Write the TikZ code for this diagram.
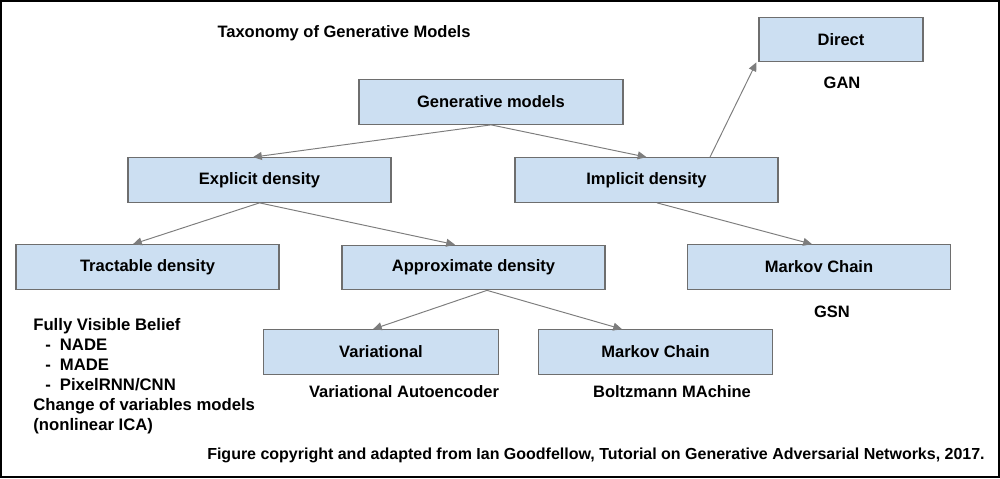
\documentclass[tikz,border=0pt]{standalone}
\usepackage{fontspec}
\setmainfont{Liberation Sans}
\usepackage{tikz}
\usetikzlibrary{
  arrows.meta,
  positioning,
  calc
}
\definecolor{boxblue}{RGB}{204,223,242}
\definecolor{boxgray}{RGB}{110,110,110}
\definecolor{arrgray}{RGB}{125,125,125}

\begin{document}
\begin{tikzpicture}[
  x=0.02cm, y=-0.02cm,
  every node/.style={font=\bfseries\fontsize{9.4}{11.4}\selectfont, inner sep=0pt},
  taxbox/.style={rectangle, draw=boxgray, fill=boxblue, line width=0.7pt, minimum width=5.26cm, minimum height=0.89cm},
  smallbox/.style={taxbox, minimum width=4.69cm},
  arr/.style={draw=arrgray, line width=0.55pt, -{Triangle[length=5pt,width=4.5pt]}}
]
  \useasboundingbox (0,0) rectangle (1000,478);
  \draw[line width=1.5pt] (1,1) rectangle (999,477);

  % title
  \node (title) at (344,33) {Taxonomy of Generative Models};

  % the tree
  \node[taxbox, minimum width=5.28cm] (gen) at (491,102) {Generative models};
  \node[taxbox] (expl) at (259.5,180) {Explicit density};
  \node[taxbox] (impl) at (646.5,180) {Implicit density};
  \node[taxbox, minimum width=3.28cm] (direct) at (841,39.5) {Direct};
  \node[taxbox] (tract) at (147.5,267) {Tractable density};
  \node[taxbox] (approx) at (473.5,267.5) {Approximate density};
  \node[taxbox] (markovA) at (819,267) {Markov Chain};
  \node[smallbox] (vari) at (381,352) {Variational};
  \node[smallbox] (markovB) at (655.5,352) {Markov Chain};

  % example models
  \node (gan) at (842,83) {GAN};
  \node (gsn) at (832,312) {GSN};
  \node (vae) at (404,392) {Variational Autoencoder};
  \node (boltz) at (672,392) {Boltzmann MAchine};
  \node[anchor=north west, align=left, font=\bfseries\fontsize{9.5}{11.4}\selectfont] (fvb) at (33,318) {Fully Visible Belief\\
    \hspace{0.24cm}-\hspace{0.18cm}NADE\\
    \hspace{0.24cm}-\hspace{0.18cm}MADE\\
    \hspace{0.24cm}-\hspace{0.18cm}PixelRNN/CNN\\
    Change of variables models\\
    (nonlinear ICA)};
  \node[anchor=east, font=\bfseries\fontsize{9.1}{11}\selectfont] (credit) at (985,455) {Figure copyright and adapted from Ian Goodfellow, Tutorial on Generative Adversarial Networks, 2017.};

  % connectors
  \draw[arr] (gen.south) -- ([xshift=-0.13cm]expl.north);
  \draw[arr] (gen.south) -- (impl.north);
  \draw[arr] ([xshift=1.27cm]impl.north) -- ([xshift=-0.04cm]direct.south west);
  \draw[arr] (expl.south) -- ([xshift=-0.29cm]tract.north);
  \draw[arr] (expl.south) -- ([xshift=-0.37cm]approx.north);
  \draw[arr] ([xshift=0.21cm]impl.south) -- ([xshift=-0.14cm]markovA.north);
  \draw[arr] ([xshift=0.27cm]approx.south) -- ([xshift=-0.16cm]vari.north);
  \draw[arr] ([xshift=0.27cm]approx.south) -- ([xshift=-0.67cm]markovB.north);
\end{tikzpicture}
\end{document}
